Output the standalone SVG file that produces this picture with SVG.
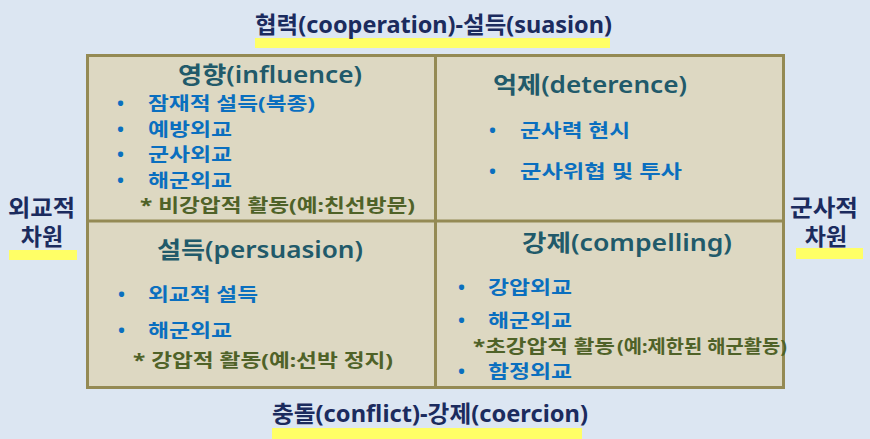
<svg xmlns="http://www.w3.org/2000/svg" width="870" height="439" viewBox="0 0 870 439">
<style>
text{font-family:"Noto Sans","Noto Sans CJK KR",sans-serif;font-weight:bold}
.ttl{font-size:23px;fill:#1b2b5e}
.hd{font-size:23px;fill:#215a6a;font-weight:600}
.it{font-size:18.5px;fill:#0a6fbf}
.nt{font-size:18.5px;fill:#4f6228}
.hl{fill:#ffff66}
</style>
<rect width="870" height="439" fill="#dce6f2"/>
<g id="highlights">
<rect class="hl" x="255" y="38" width="355" height="10"/>
<rect class="hl" x="272" y="428" width="310" height="11"/>
<rect class="hl" x="9" y="250" width="68" height="10"/>
<rect class="hl" x="796" y="248" width="67" height="11"/>
</g>
<g id="frame">
<rect x="87.5" y="55.5" width="696" height="332" fill="#ddd8c2" stroke="#948a54" stroke-width="3"/>
</g>
<g id="connectors">
<line x1="435.5" y1="55" x2="435.5" y2="388" stroke="#948a54" stroke-width="3"/>
<line x1="87" y1="221" x2="784" y2="221" stroke="#948a54" stroke-width="3"/>
</g>
<g id="title-top"><text class="ttl" x="255" y="33" textLength="357" lengthAdjust="spacingAndGlyphs">협력(cooperation)-설득(suasion)</text></g>
<g id="title-bottom"><text class="ttl" x="272" y="422" textLength="316" lengthAdjust="spacingAndGlyphs">충돌(conflict)-강제(coercion)</text></g>
<g id="label-left"><text class="ttl" x="8" y="216" textLength="67" lengthAdjust="spacingAndGlyphs">외교적</text><text class="ttl" x="42" y="245" text-anchor="middle">차원</text></g>
<g id="label-right"><text class="ttl" x="790" y="216" textLength="68" lengthAdjust="spacingAndGlyphs">군사적</text><text class="ttl" x="826" y="245" text-anchor="middle">차원</text></g>
<g id="q-influence">
<text class="hd" x="178" y="83" textLength="184" lengthAdjust="spacingAndGlyphs">영향(influence)</text>
<text class="it" x="117" y="110">•</text><text class="it" x="148" y="110" textLength="167" lengthAdjust="spacingAndGlyphs">잠재적 설득(복종)</text>
<text class="it" x="117" y="136">•</text><text class="it" x="148" y="136" textLength="84" lengthAdjust="spacingAndGlyphs">예방외교</text>
<text class="it" x="117" y="161">•</text><text class="it" x="148" y="161" textLength="84" lengthAdjust="spacingAndGlyphs">군사외교</text>
<text class="it" x="117" y="187">•</text><text class="it" x="148" y="187" textLength="84" lengthAdjust="spacingAndGlyphs">해군외교</text>
<text class="nt" x="140" y="212" textLength="275" lengthAdjust="spacingAndGlyphs">* 비강압적 활동(예:친선방문)</text>
</g>
<g id="q-deterence">
<text class="hd" x="493" y="93" textLength="194" lengthAdjust="spacingAndGlyphs">억제(deterence)</text>
<text class="it" x="489" y="137">•</text><text class="it" x="520" y="137" textLength="110" lengthAdjust="spacingAndGlyphs">군사력 현시</text>
<text class="it" x="489" y="178">•</text><text class="it" x="520" y="178" textLength="162" lengthAdjust="spacingAndGlyphs">군사위협 및 투사</text>
</g>
<g id="q-persuasion">
<text class="hd" x="157" y="258" textLength="206" lengthAdjust="spacingAndGlyphs">설득(persuasion)</text>
<text class="it" x="118" y="301">•</text><text class="it" x="148" y="301" textLength="110" lengthAdjust="spacingAndGlyphs">외교적 설득</text>
<text class="it" x="118" y="337">•</text><text class="it" x="148" y="337" textLength="84" lengthAdjust="spacingAndGlyphs">해군외교</text>
<text class="nt" x="133" y="367" textLength="260" lengthAdjust="spacingAndGlyphs">* 강압적 활동(예:선박 정지)</text>
</g>
<g id="q-compelling">
<text class="hd" x="522" y="251" textLength="210" lengthAdjust="spacingAndGlyphs">강제(compelling)</text>
<text class="it" x="458" y="294">•</text><text class="it" x="488" y="294" textLength="84" lengthAdjust="spacingAndGlyphs">강압외교</text>
<text class="it" x="458" y="327">•</text><text class="it" x="488" y="327" textLength="84" lengthAdjust="spacingAndGlyphs">해군외교</text>
<text class="nt" x="473" y="353" textLength="142" lengthAdjust="spacingAndGlyphs">*초강압적 활동</text>
<text class="nt" x="617" y="353" font-size="16px" textLength="170" lengthAdjust="spacingAndGlyphs">(예:제한된 해군활동)</text>
<text class="it" x="458" y="378">•</text><text class="it" x="488" y="378" textLength="84" lengthAdjust="spacingAndGlyphs">함정외교</text>
</g>
</svg>
